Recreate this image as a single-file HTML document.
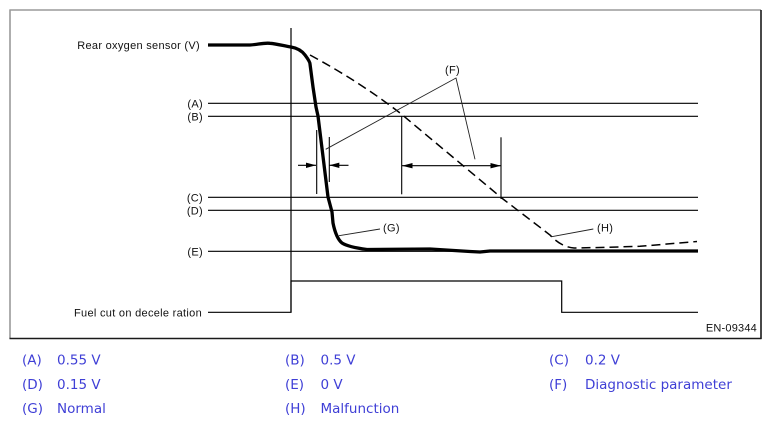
<!DOCTYPE html>
<html>
<head>
<meta charset="utf-8">
<style>
  html,body{margin:0;padding:0;background:#fff;}
  body{width:771px;height:426px;overflow:hidden;position:relative;}
  svg{position:absolute;left:0;top:0;}
  .lbl{font-family:"Liberation Sans",Arial,sans-serif;font-size:11px;fill:#111;letter-spacing:0.3px;}
  .leg{font-family:"DejaVu Sans","Liberation Sans",sans-serif;font-size:13.5px;fill:#3f3fd6;}
</style>
</head>
<body>
<svg width="771" height="426" viewBox="0 0 771 426" xmlns="http://www.w3.org/2000/svg">
  <!-- frame -->
  <line x1="9.5" y1="10" x2="761" y2="10" stroke="#9a9a9a" stroke-width="1.6"/>
  <line x1="10" y1="9.5" x2="10" y2="338.5" stroke="#9a9a9a" stroke-width="1.6"/>
  <line x1="761" y1="10" x2="761" y2="339" stroke="#1a1a1a" stroke-width="1.6"/>
  <line x1="9.5" y1="338.5" x2="761.5" y2="338.5" stroke="#1a1a1a" stroke-width="1.6"/>

  <!-- level lines -->
  <g stroke="#000" stroke-width="1.2" fill="none">
    <line x1="208" y1="103.3" x2="698" y2="103.3"/>
    <line x1="208" y1="116.3" x2="698" y2="116.3"/>
    <line x1="208" y1="197.3" x2="698" y2="197.3"/>
    <line x1="208" y1="210.3" x2="698" y2="210.3"/>
    <line x1="208" y1="251.3" x2="698" y2="251.3"/>
    <!-- vertical time line -->
    <line x1="291" y1="28" x2="291" y2="312.3"/>
    <!-- fuel cut signal -->
    <polyline points="208,312.3 291,312.3 291,281 561.7,281 561.7,312.3 698,312.3"/>
  </g>

  <!-- dashed malfunction curve -->
  <path d="M310,55 Q360,82 400,113 L503,199 L550,235 Q561,247 574,248 L600,247.5 L640,246.3 L697,241.5"
        fill="none" stroke="#000" stroke-width="1.5" stroke-dasharray="9 5"/>

  <!-- thick normal curve -->
  <path d="M208,45 L250,45 C258,44.5 264,42.6 270,43.3 C278,44 284,46 291,47 C297,48 302,51 305,55 C308,59 310,62 310,64 L313,87 L316,107 L318,116 L328,197 L332,212 L333,223 Q336,238 342,243 Q348,247 367,249.5 L430,249 L470,251.5 L480,252 L490,251 L698,251"
        fill="none" stroke="#000" stroke-width="3.3" stroke-linejoin="round"/>

  <!-- left dimension -->
  <g stroke="#000" stroke-width="1.1" fill="none">
    <line x1="316.7" y1="130" x2="316.7" y2="194"/>
    <line x1="329.3" y1="137" x2="329.3" y2="182"/>
    <line x1="298" y1="165.3" x2="316" y2="165.3"/>
    <line x1="329" y1="165.3" x2="348.5" y2="165.3"/>
    <!-- right dimension -->
    <line x1="401.7" y1="116.3" x2="401.7" y2="194.3"/>
    <line x1="501" y1="137.3" x2="501" y2="199"/>
    <line x1="402" y1="165.7" x2="501" y2="165.7"/>
  </g>
  <g fill="#000">
    <polygon points="316,165.3 306,162.6 306,168"/>
    <polygon points="329.3,165.3 339.3,162.6 339.3,168"/>
    <polygon points="402,165.7 412.5,163 412.5,168.4"/>
    <polygon points="501,165.7 490.5,163 490.5,168.4"/>
  </g>

  <!-- leader lines -->
  <g stroke="#222" stroke-width="0.9" fill="none">
    <polyline points="325.7,149.3 456,78 475,159.3"/>
    <line x1="339" y1="235.7" x2="380" y2="229"/>
    <line x1="551.7" y1="236.7" x2="593.3" y2="229"/>
  </g>

  <!-- chart labels -->
  <text class="lbl" x="200" y="49" text-anchor="end">Rear oxygen sensor (V)</text>
  <text class="lbl" x="203" y="107.3" text-anchor="end">(A)</text>
  <text class="lbl" x="203" y="120.3" text-anchor="end">(B)</text>
  <text class="lbl" x="203" y="201.3" text-anchor="end">(C)</text>
  <text class="lbl" x="203" y="214.3" text-anchor="end">(D)</text>
  <text class="lbl" x="203" y="255.3" text-anchor="end">(E)</text>
  <text class="lbl" x="202" y="316.3" text-anchor="end">Fuel cut on decele ration</text>
  <text class="lbl" x="445" y="73.5">(F)</text>
  <text class="lbl" x="383" y="231.5">(G)</text>
  <text class="lbl" x="597" y="231.5">(H)</text>
  <text class="lbl" x="757" y="331.5" text-anchor="end" style="letter-spacing:0.2px">EN-09344</text>

  <!-- legend -->
  <text class="leg" x="22" y="364.5">(A)</text>
  <text class="leg" x="57" y="364.5">0.55 V</text>
  <text class="leg" x="285" y="364.5">(B)</text>
  <text class="leg" x="320.5" y="364.5">0.5 V</text>
  <text class="leg" x="549" y="364.5">(C)</text>
  <text class="leg" x="585" y="364.5">0.2 V</text>

  <text class="leg" x="22" y="388.8">(D)</text>
  <text class="leg" x="57" y="388.8">0.15 V</text>
  <text class="leg" x="285" y="388.8">(E)</text>
  <text class="leg" x="320.5" y="388.8">0 V</text>
  <text class="leg" x="549" y="388.8">(F)</text>
  <text class="leg" x="585" y="388.8">Diagnostic parameter</text>

  <text class="leg" x="22" y="413">(G)</text>
  <text class="leg" x="57" y="413">Normal</text>
  <text class="leg" x="285" y="413">(H)</text>
  <text class="leg" x="320.5" y="413">Malfunction</text>
</svg>
</body>
</html>
